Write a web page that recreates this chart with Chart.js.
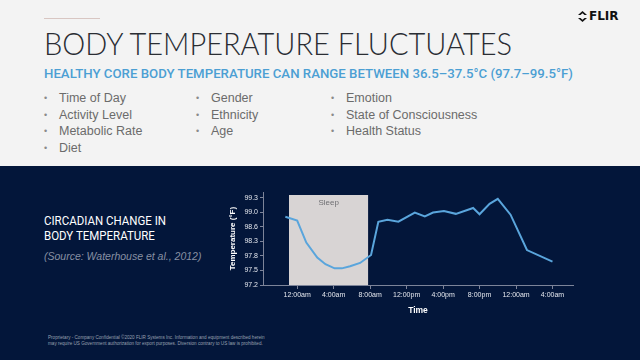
<!DOCTYPE html>
<html>
<head>
<meta charset="utf-8">
<script src="https://cdn.jsdelivr.net/npm/chart.js@4/dist/chart.umd.min.js"></script>
<style>
  html, body { margin: 0; padding: 0; }
  body { width: 640px; height: 360px; position: relative; overflow: hidden; background: #f3f3f3; font-family: "Liberation Sans", Arial, sans-serif; }
  .abs { position: absolute; white-space: nowrap; }
  #rule { left: 44px; top: 18px; width: 56px; height: 1px; background: #d8c6c2; }
  #title { left: 44px; top: 24px; font-family: Lato, sans-serif; font-weight: 300; font-size: 31px; color: #2a2d33; transform-origin: left top; }
  #subtitle { left: 44px; top: 66px; font-family: Roboto, sans-serif; font-weight: 500; font-size: 13px; color: #4c9fd3; transform-origin: left top; }
  #logo { left: 578px; top: 9px; font-family: "DejaVu Sans", sans-serif; font-weight: bold; font-size: 12px; color: #111; display: flex; align-items: center; gap: 2px; }
  .col { top: 90px; font-size: 12.5px; color: #6b6b6b; line-height: 16.5px; }
  .col div::before { content: "\2022"; display: inline-block; width: 15px; color: #8a8a8a; font-size: 9px; vertical-align: 1px; }
  #dark { left: 0; top: 166px; width: 640px; height: 194px; background: #03163a; }
  #caption { left: 44px; top: 214px; font-family: Roboto, sans-serif; font-weight: 400; font-size: 12px; color: #ffffff; line-height: 15px; transform-origin: left top; }
  #source { left: 44px; top: 250px; font-size: 10.5px; font-style: italic; color: #8790a3; }
  #legal { left: 48px; top: 335px; font-size: 4.6px; color: #98a0b0; line-height: 6px; }
  #box { left: 222px; top: 186px; width: 360px; height: 134px; }
</style>
</head>
<body>
<div id="rule" class="abs"></div>
<div id="title" class="abs">BODY TEMPERATURE FLUCTUATES</div>
<div id="subtitle" class="abs">HEALTHY CORE BODY TEMPERATURE CAN RANGE BETWEEN 36.5–37.5°C (97.7–99.5°F)</div>
<div id="logo" class="abs"><svg width="9" height="11" viewBox="0 0 9 11"><path d="M4.5 0 L9 4 L6.5 4 L4.5 2.2 L2.5 4 L0 4 Z M4.5 11 L0 7 L2.5 7 L4.5 8.8 L6.5 7 L9 7 Z" fill="#111"/></svg><span>FLIR</span></div>
<div class="abs col" style="left:44px"><div>Time of Day</div><div>Activity Level</div><div>Metabolic Rate</div><div>Diet</div></div>
<div class="abs col" style="left:196px"><div>Gender</div><div>Ethnicity</div><div>Age</div></div>
<div class="abs col" style="left:331px"><div>Emotion</div><div>State of Consciousness</div><div>Health Status</div></div>
<div id="dark" class="abs"></div>
<div id="caption" class="abs">CIRCADIAN CHANGE IN<br>BODY TEMPERATURE</div>
<div id="source" class="abs">(Source: Waterhouse et al., 2012)</div>
<div id="legal" class="abs">Proprietary - Company Confidential ©2020 FLIR Systems Inc. Information and equipment described herein<br>may require US Government authorization for export purposes. Diversion contrary to US law is prohibited.</div>
<div id="box" class="abs"><canvas id="chart"></canvas></div>

<script>
// hours since midnight (negative = evening before)
var hours = [-1.3, 0, 1, 2.2, 3.1, 4.1, 4.9, 5.8, 6.9, 8.1, 8.9, 9.9, 11.1, 12.9, 14, 14.9, 16.1, 17.4, 19.3, 20, 21.1, 22, 23.4, 25.2, 28];
var tempsF = [98.84, 98.75, 98.22, 97.86, 97.70, 97.60, 97.60, 97.65, 97.73, 97.92, 98.72, 98.77, 98.72, 98.94, 98.85, 98.94, 98.98, 98.91, 99.05, 98.90, 99.15, 99.27, 98.89, 98.04, 97.76];

var tickHours = [0, 4, 8, 12, 16, 20, 24, 28];
var tickTimes = ["12:00am", "4:00am", "8:00am", "12:00pm", "4:00pm", "8:00pm", "12:00am", "4:00am"];
var tickTemps = [97.2, 97.55, 97.9, 98.25, 98.6, 98.95, 99.3];
var tempLabels = ["97.2", "97.5", "97.8", "98.3", "98.6", "99.0", "99.3"];

var sleepStart = -0.9;
var sleepEnd = 7.8;
var sleepTop = 99.36;

function fitWidth(id, target) {
    var el = document.getElementById(id);
    var w = el.getBoundingClientRect().width;
    el.style.transform = "scaleX(" + (target / w) + ")";
}
fitWidth("title", 468);
fitWidth("subtitle", 529);
fitWidth("caption", 122);

var sleepLabel = {
    id: "sleepLabel",
    afterDatasetsDraw(chart) {
        var x = chart.scales.x, y = chart.scales.y, ctx = chart.ctx;
        ctx.save();
        ctx.fillStyle = "#6f6f73";
        ctx.font = "8px 'Liberation Sans', Arial";
        ctx.textAlign = "center";
        ctx.textBaseline = "top";
        ctx.fillText("Sleep", (x.getPixelForValue(sleepStart) + x.getPixelForValue(sleepEnd)) / 2, y.getPixelForValue(sleepTop) + 4);
        ctx.restore();
    }
};

var tickFont = { family: "'Liberation Sans', Arial", size: 7 };

new Chart(document.getElementById("chart"), {
    type: "scatter",
    data: {
        datasets: [
            {
                data: hours.map((h, i) => ({ x: h, y: tempsF[i] })),
                showLine: true,
                borderColor: "#5aa5dc",
                borderWidth: 2,
                pointRadius: 0,
                tension: 0,
                order: 0
            },
            {
                data: [{ x: sleepStart, y: sleepTop }, { x: sleepEnd, y: sleepTop }],
                showLine: true,
                fill: "start",
                backgroundColor: "#d8d4d4",
                borderWidth: 0,
                pointRadius: 0,
                order: 1
            }
        ]
    },
    options: {
        responsive: true,
        maintainAspectRatio: false,
        animation: false,
        layout: { padding: { top: 4, right: 9, left: 0, bottom: 0 } },
        plugins: { legend: { display: false }, tooltip: { enabled: false } },
        scales: {
            x: {
                type: "linear",
                min: -3.75,
                max: 30.25,
                afterBuildTicks: (s) => { s.ticks = tickHours.map(v => ({ value: v })); },
                afterFit: (s) => { s.height = 35; },
                ticks: {
                    color: "#e4e7ee",
                    font: tickFont,
                    padding: 2,
                    maxRotation: 0,
                    callback: (v, i) => tickTimes[i]
                },
                grid: { drawOnChartArea: false, color: "#7d8499", tickLength: 4 },
                border: { color: "#7d8499" },
                title: { display: true, text: "Time", color: "#ffffff", font: { family: "'Liberation Sans', Arial", size: 8.5, weight: "bold" }, padding: { top: 4, bottom: 4 } }
            },
            y: {
                min: 97.2,
                max: 99.43,
                afterBuildTicks: (s) => { s.ticks = tickTemps.map(v => ({ value: v })); },
                afterFit: (s) => { s.width = 41; },
                ticks: {
                    color: "#e4e7ee",
                    font: tickFont,
                    padding: 2,
                    callback: (v, i) => tempLabels[i]
                },
                grid: { drawOnChartArea: false, color: "#7d8499", tickLength: 3 },
                border: { color: "#7d8499" },
                title: { display: true, text: "Temperature (°F)", color: "#ffffff", font: { family: "'Liberation Sans', Arial", size: 8, weight: "bold" }, padding: { top: 6, bottom: 4 } }
            }
        }
    },
    plugins: [sleepLabel]
});
</script>
</body>
</html>
